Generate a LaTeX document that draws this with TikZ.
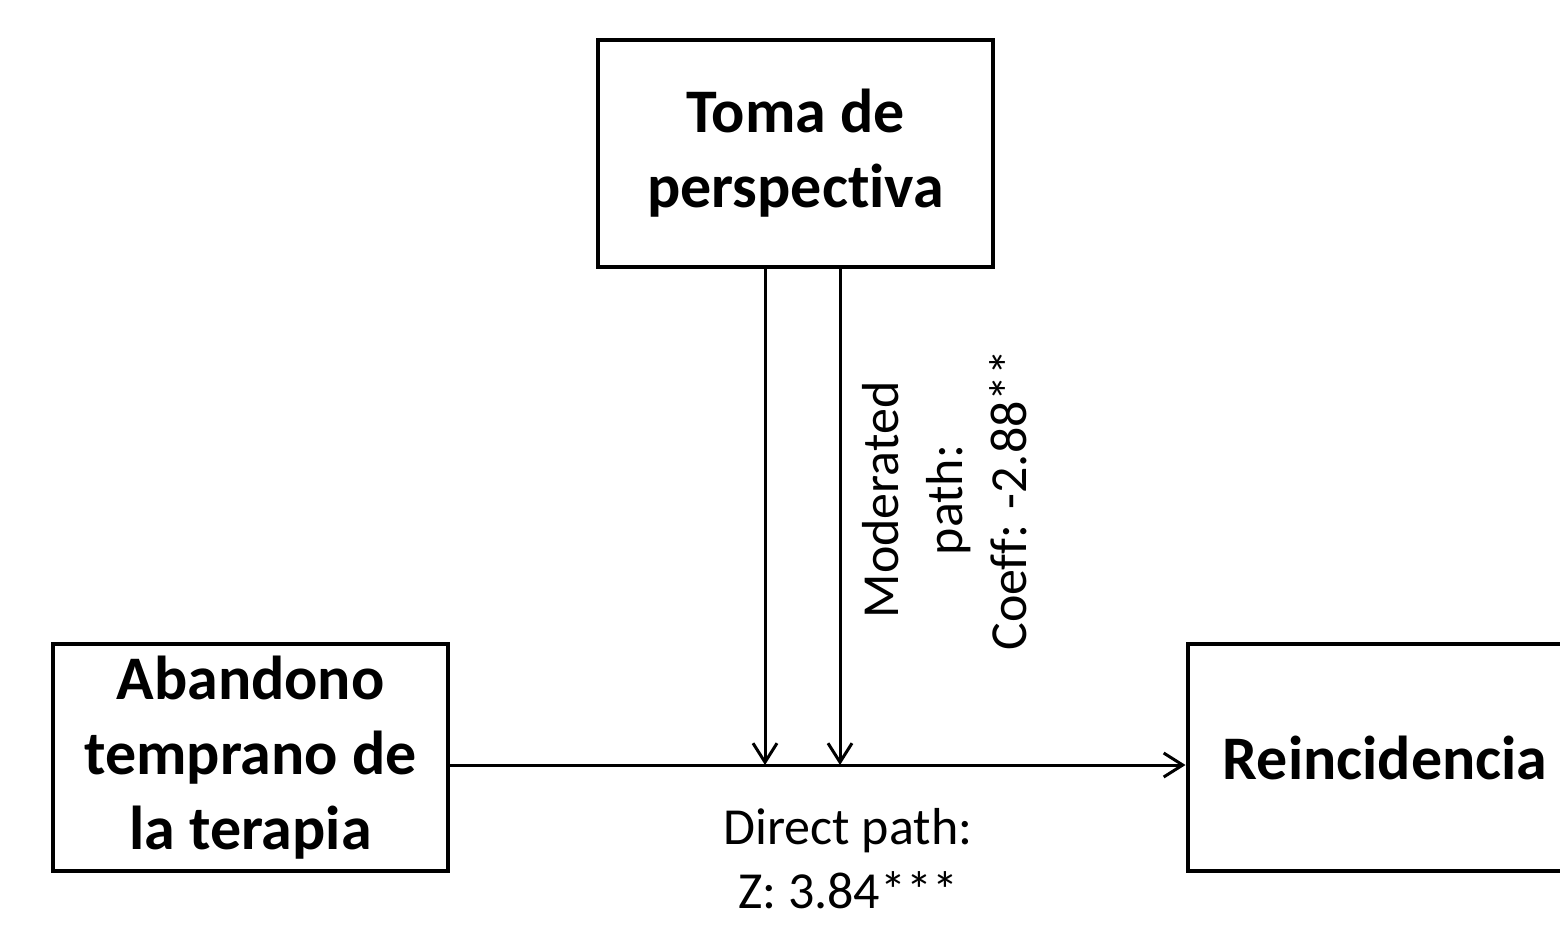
\documentclass[tikz,border=0pt]{standalone}
\usepackage{fontspec}
\setmainfont{Carlito}[Ligatures={NoCommon}]
\usetikzlibrary{arrows.meta}
\tikzset{
  varbox/.style={draw, line width=4pt, minimum width=395pt, minimum height=227pt, inner sep=0pt, align=center, font=\fontsize{62}{75}\selectfont\bfseries},
  conn/.style={line width=3pt, -{Straight Barb[length=19pt,width=24pt,line width=3pt]}},
  lbl/.style={align=center, inner sep=0pt, font=\fontsize{52}{64}\selectfont}
}
\begin{document}
\begin{tikzpicture}[x=1pt,y=-1pt]
\useasboundingbox (0,0) rectangle (1560,935);
\clip (0,0) rectangle (1560,935);
\fill[white] (0,0) rectangle (1560,935);
\node[varbox] (top) at (795.5,153.5) {Toma de\\perspect\kern0pt iva};
\node[varbox] (left) at (250.5,757.5) {Abandono\\temprano de\\la terapia};
\node[varbox] (right) at (1385,757.5) {Reincidencia};
\coordinate (j1) at (765,765);
\coordinate (j2) at (840,765);
\draw[conn] (left.east |- j1) -- (right.west |- j1);
\draw[conn] (top.south -| j1) -- (j1);
\draw[conn] (top.south -| j2) -- (j2);
\node[lbl, rotate=90] (mod) at (945,500) {Moderated\\path:\\Coeff: -2.88**};
\node[lbl] (dir) at (848,859) {Direct path:\\Z: 3.84***};
\end{tikzpicture}
\end{document}
